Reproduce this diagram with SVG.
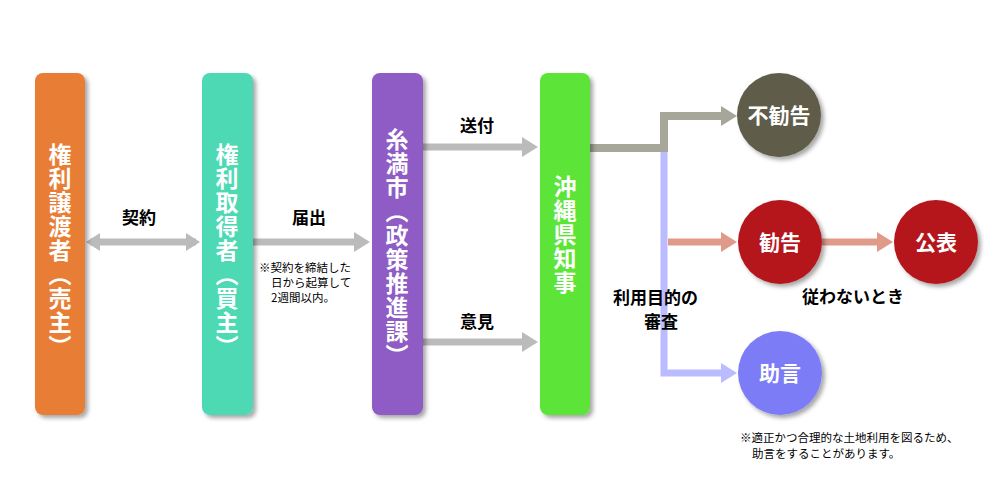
<svg xmlns="http://www.w3.org/2000/svg" width="1000" height="500" viewBox="0 0 1000 500">
<defs>
<style>
.box{stroke:none}
.vt{font-family:"Noto Sans CJK JP",sans-serif;font-weight:bold;font-size:23px;fill:#fff;writing-mode:vertical-rl;letter-spacing:1px}
.lb{font-family:"Noto Sans CJK JP",sans-serif;font-weight:bold;font-size:17px;fill:#000}
.ct{font-family:"Noto Sans CJK JP",sans-serif;font-weight:bold;font-size:21px;fill:#fff;text-anchor:middle}
.nt{font-family:"Noto Sans CJK JP",sans-serif;font-size:11.5px;fill:#000}
</style>
<filter id="sh" x="-20%" y="-10%" width="150%" height="130%"><feDropShadow dx="3" dy="3" stdDeviation="2" flood-opacity="0.35"/></filter>
</defs>
<g id="connectors">
<path d="M90,242H196" stroke="#bbb" stroke-width="7"/>
<path d="M86,242l14,-9v18z M200,242l-14,-9v18z" fill="#bbb"/>
<path d="M253,242H355" stroke="#bbb" stroke-width="7"/><path d="M370,242l-16,-10v20z" fill="#bbb"/>
<path d="M423,147H523" stroke="#bbb" stroke-width="7"/><path d="M538,147l-16,-10v20z" fill="#bbb"/>
<path d="M423,342H523" stroke="#bbb" stroke-width="7"/><path d="M538,342l-16,-10v20z" fill="#bbb"/>
<path d="M664,152V373H722" stroke="#bbf" stroke-width="7" fill="none"/><path d="M737,373l-16,-10v20z" fill="#bbf"/>
<path d="M590,148H664V116H722" stroke="#a6a699" stroke-width="8" fill="none"/><path d="M737,116l-16,-10v20z" fill="#a6a699"/>
<path d="M668,242H722" stroke="#e09a8a" stroke-width="7"/><path d="M737,242l-16,-10v20z" fill="#e09a8a"/>
<path d="M822,242H878" stroke="#e09a8a" stroke-width="7"/><path d="M893,242l-16,-10v20z" fill="#e09a8a"/>
</g>
<g id="seller"><rect class="box" x="35" y="73" width="50" height="342" rx="8" fill="#e87e34" filter="url(#sh)"/><text class="vt" x="60" y="143">権利譲渡者（売主）</text></g>
<g id="buyer"><rect class="box" x="202" y="73" width="51" height="342" rx="8" fill="#4dd9b3" filter="url(#sh)"/><text class="vt" x="227" y="143">権利取得者（買主）</text></g>
<g id="city"><rect class="box" x="372" y="73" width="51" height="342" rx="8" fill="#8e5bc4" filter="url(#sh)"/><text class="vt" x="397" y="128">糸満市（政策推進課）</text></g>
<g id="pref"><rect class="box" x="540" y="73" width="50" height="342" rx="8" fill="#5be537" filter="url(#sh)"/><text class="vt" x="565" y="175">沖縄県知事</text></g>
<g id="n1"><circle cx="779" cy="115" r="42" fill="#5e5d4a" filter="url(#sh)"/><text class="ct" x="779" y="123">不勧告</text></g>
<g id="n2"><circle cx="780" cy="242" r="42" fill="#b5161c" filter="url(#sh)"/><text class="ct" x="780" y="250">勧告</text></g>
<g id="n3"><circle cx="936" cy="242" r="42" fill="#b5161c" filter="url(#sh)"/><text class="ct" x="936" y="250">公表</text></g>
<g id="n4"><circle cx="780" cy="373" r="42" fill="#7c7cf7" filter="url(#sh)"/><text class="ct" x="780" y="381">助言</text></g>
<g id="labels">
<text class="lb" x="122" y="224">契約</text>
<text class="lb" x="292" y="224">届出</text>
<text class="lb" x="460" y="132">送付</text>
<text class="lb" x="460" y="328">意見</text>
<text class="lb" x="613" y="304">利用目的の</text>
<text class="lb" x="644" y="328">審査</text>
<text class="lb" x="802" y="303">従わないとき</text>
<text class="nt" x="259" y="272">※契約を締結した</text>
<text class="nt" x="271" y="287">日から起算して</text>
<text class="nt" x="271" y="302">2週間以内。</text>
<text class="nt" x="740" y="442">※適正かつ合理的な土地利用を図るため、</text>
<text class="nt" x="752" y="458">助言をすることがあります。</text>
</g>
</svg>
